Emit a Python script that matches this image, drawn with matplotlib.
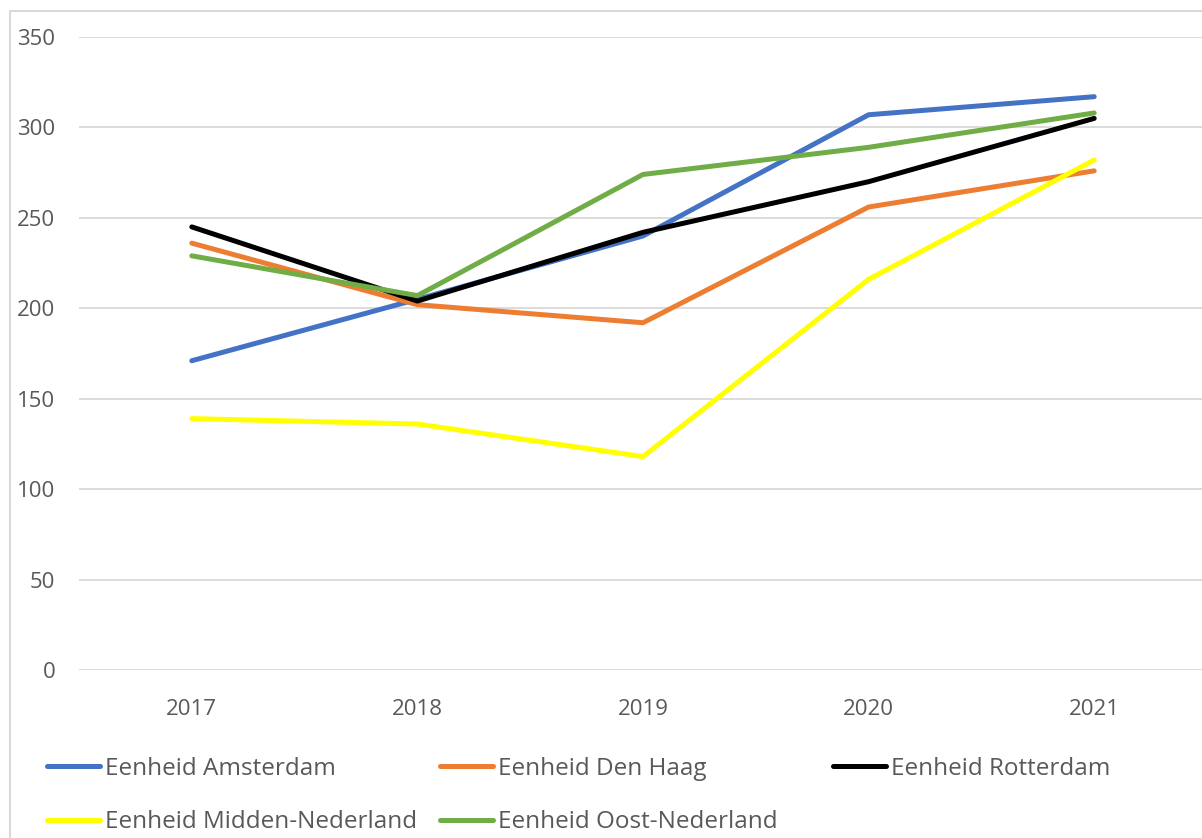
import matplotlib
matplotlib.use('Agg')
import matplotlib.pyplot as plt
from matplotlib.patches import Rectangle

years = ['2017', '2018', '2019', '2020', '2021']
amsterdam = [171, 205, 240, 307, 317]
den_haag = [236, 202, 192, 256, 276]
rotterdam = [245, 204, 242, 270, 305]
midden_nederland = [139, 136, 118, 216, 282]
oost_nederland = [229, 207, 274, 289, 308]

series = [
    ('Eenheid Amsterdam', amsterdam, '#4472C4'),
    ('Eenheid Den Haag', den_haag, '#ED7D31'),
    ('Eenheid Rotterdam', rotterdam, '#000000'),
    ('Eenheid Midden-Nederland', midden_nederland, '#FFFF00'),
    ('Eenheid Oost-Nederland', oost_nederland, '#70AD47'),
]

plt.rcParams['font.family'] = ['Open Sans', 'DejaVu Sans']
TEXT = '#595959'

W, H = 1202, 838
fig = plt.figure(figsize=(W / 100, H / 100), dpi=100)
ax = fig.add_axes([79 / W, 1 - 670 / H, 1128 / W, 633 / H])

x = list(range(len(years)))
lines = {}
for name, vals, col in series:
    ln, = ax.plot(x, vals, color=col, lw=3.6, solid_capstyle='round',
                  solid_joinstyle='round', label=name)
    lines[name] = ln

ax.set_xlim(-0.5, len(years) - 0.5)
ax.set_ylim(0, 350)
ax.set_yticks(range(0, 351, 50))
ax.set_xticks(x)
ax.set_xticklabels(years)
ax.grid(axis='y', color='#D9D9D9', lw=1.3)
ax.set_axisbelow(True)
for s in ax.spines.values():
    s.set_visible(False)
ax.tick_params(length=0, labelsize=16, colors=TEXT)
ax.tick_params(axis='y', pad=17)
ax.tick_params(axis='x', pad=21)

# chart border
fig.patches.append(Rectangle((10 / W, -0.05), 1.1, 1 - 11 / H + 0.05,
                             transform=fig.transFigure, fill=False,
                             edgecolor='#D9D9D9', lw=1.5))

# legend laid out in three fixed columns like Excel
cols = [
    (['Eenheid Amsterdam', 'Eenheid Midden-Nederland'], 47),
    (['Eenheid Den Haag', 'Eenheid Oost-Nederland'], 440),
    (['Eenheid Rotterdam'], 833),
]
for names, xpx in cols:
    fig.legend([lines[n] for n in names], names,
               loc='upper left', bbox_to_anchor=(xpx / W, 1 - 757 / H),
               frameon=False, fontsize=17.5, handlelength=2.2,
               handletextpad=0.2, labelspacing=1.2,
               borderaxespad=0, borderpad=0, labelcolor=TEXT)

fig.savefig('out.png', dpi=100)
